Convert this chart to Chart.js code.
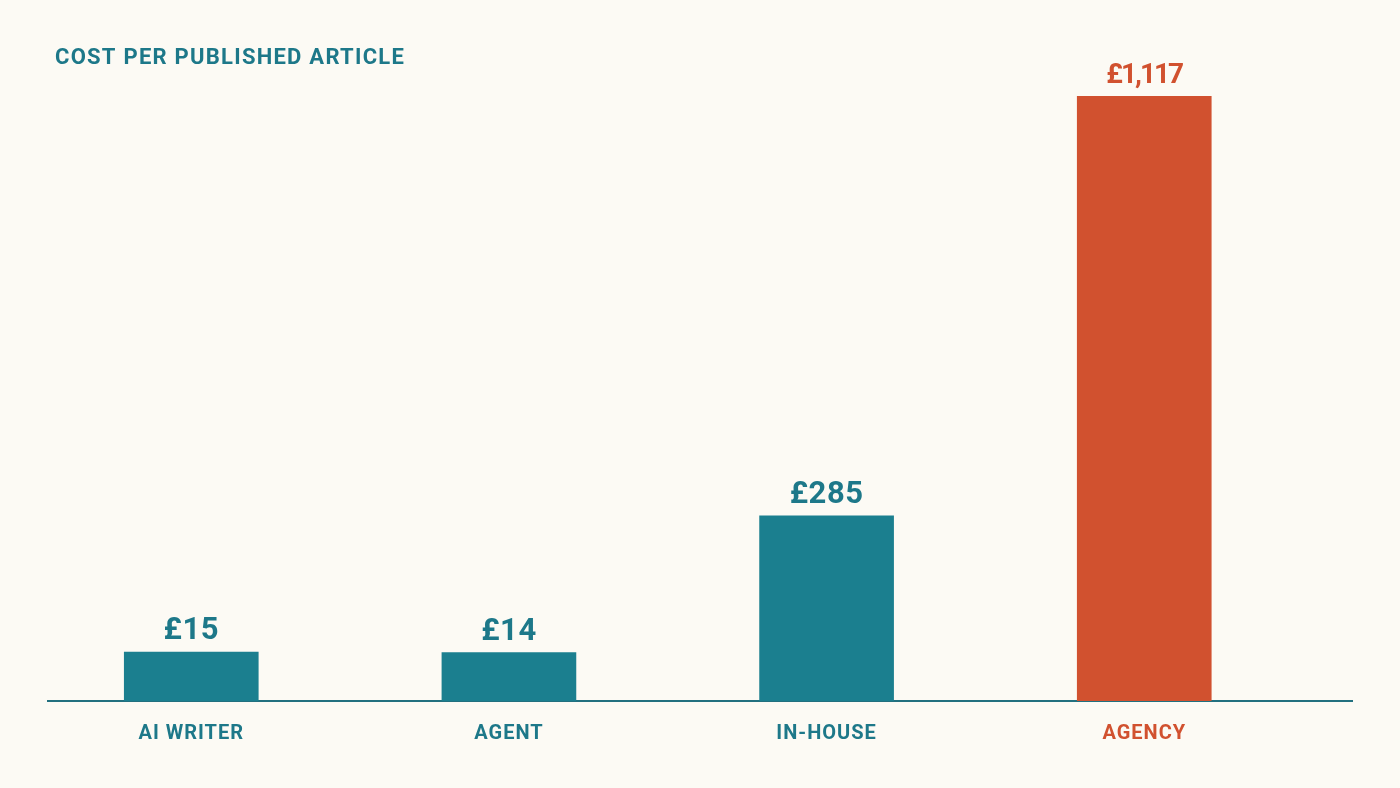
<!DOCTYPE html>
<html>
<head>
<meta charset="utf-8">
<script src="https://cdn.jsdelivr.net/npm/chart.js@4.4.1/dist/chart.umd.min.js"></script>
<style>
  html, body { margin: 0; padding: 0; background: #fcfaf4; }
  #wrap { width: 1400px; height: 788px; position: relative; }
  canvas { display: block; }
</style>
</head>
<body>
<div id="wrap"><canvas id="c" width="1400" height="788"></canvas></div>
<script>
// ---- data ----
const title = 'COST PER PUBLISHED ARTICLE';
const categories = ['AI WRITER', 'AGENT', 'IN-HOUSE', 'AGENCY'];
const costs = [15, 14, 285, 1117];
const valueLabels = ['£15', '£14', '£285', '£1,117'];
const highlighted = 'AGENCY';

// ---- styles ----
const TEAL = '#1b7f8f';
const TEAL_TEXT = '#1d7889';
const ORANGE = '#d1512f';
const AXIS = '#22707f';
const colorFor = (cat) => cat === highlighted ? ORANGE : TEAL;
const textColorFor = (cat) => cat === highlighted ? ORANGE : TEAL_TEXT;

const points = categories.map((c, i) => ({ x: i, y: costs[i] }));

const decor = {
  id: 'decor',
  beforeDraw(chart) {
    chart.ctx.letterSpacing = '1px';
  },
  afterDraw(chart) {
    const ctx = chart.ctx;
    ctx.save();
    ctx.letterSpacing = '1.25px';
    ctx.fillStyle = TEAL_TEXT;
    ctx.font = 'bold 22px Roboto';
    ctx.textAlign = 'left';
    ctx.textBaseline = 'alphabetic';
    ctx.fillText(title, 55, 64);
    const meta = chart.getDatasetMeta(0);
    meta.data.forEach((bar, i) => {
      const cat = categories[i];
      ctx.letterSpacing = cat === highlighted ? '-2px' : '0.5px';
      ctx.font = cat === highlighted ? 'bold 28px Roboto' : 'bold 31px Roboto';
      ctx.fillStyle = textColorFor(cat);
      ctx.textAlign = 'center';
      ctx.textBaseline = 'alphabetic';
      ctx.fillText(valueLabels[i], bar.x, bar.y - 13);
    });
    ctx.restore();
  }
};

new Chart(document.getElementById('c'), {
  type: 'bar',
  data: {
    datasets: [{
      data: points,
      backgroundColor: categories.map(colorFor),
      borderWidth: 0,
      barThickness: 134,
      base: -81.7
    }]
  },
  options: {
    responsive: false,
    animation: false,
    devicePixelRatio: 1,
    layout: { padding: { left: 48, right: 48, top: 96, bottom: 21 } },
    plugins: { legend: { display: false }, tooltip: { enabled: false }, title: { display: false } },
    scales: {
      x: {
        type: 'linear',
        offset: false,
        min: -0.451,
        max: 3.654,
        grid: { display: false, drawTicks: false, offset: false },
        border: { display: true, color: AXIS, width: 2 },
        ticks: {
          stepSize: 1,
          includeBounds: false,
          autoSkip: false,
          maxRotation: 0,
          padding: 21,
          font: { family: 'Roboto', size: 20, weight: 'bold' },
          color: (ctx) => textColorFor(categories[ctx.tick ? ctx.tick.value : ctx.index]),
          callback: (v) => (Number.isInteger(v) && categories[v] !== undefined) ? categories[v] : ''
        }
      },
      y: {
        display: false,
        min: -81.7,
        max: 1117,
        grid: { display: false }
      }
    }
  },
  plugins: [decor]
});
</script>
</body>
</html>
